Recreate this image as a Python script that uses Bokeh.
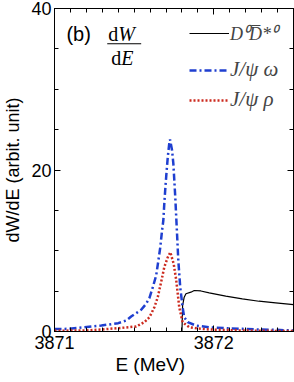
from bokeh.plotting import figure
from bokeh.models import (Range1d, FixedTicker, LinearAxis, Legend, LegendItem,
                          Label, BoxAnnotation)
from bokeh.embed import file_html
from bokeh.resources import INLINE

# ---- data ----
e_omega = [3871.000, 3871.088, 3871.188, 3871.294, 3871.400, 3871.450, 3871.481,
           3871.513, 3871.544, 3871.575, 3871.596, 3871.617, 3871.638, 3871.652,
           3871.664, 3871.675, 3871.683, 3871.689, 3871.696, 3871.704, 3871.711,
           3871.721, 3871.725, 3871.738, 3871.746, 3871.752, 3871.758, 3871.763,
           3871.769, 3871.777, 3871.789, 3871.804, 3871.814, 3871.836, 3871.888,
           3871.969, 3872.075, 3872.179, 3872.281, 3872.388, 3872.500]
w_omega = [0.31, 0.33, 0.53, 0.74, 1.03, 1.36, 1.86, 2.27, 2.69, 3.43, 4.17, 5.49,
           6.93, 8.79, 10.44, 12.51, 13.75, 15.81, 17.87, 19.94, 21.59, 23.44, 23.78,
           22.41, 20.77, 18.70, 16.63, 14.58, 12.14, 8.79, 5.49, 3.01, 1.77, 1.15,
           0.74, 0.53, 0.41, 0.33, 0.25, 0.21, 0.12]

e_rho = [3871.000, 3871.190, 3871.294, 3871.398, 3871.450, 3871.513, 3871.564,
         3871.596, 3871.627, 3871.648, 3871.669, 3871.689, 3871.711, 3871.727,
         3871.748, 3871.763, 3871.783, 3871.804, 3871.846, 3871.898, 3871.969,
         3872.179, 3872.500]
w_rho = [0.10, 0.12, 0.25, 0.41, 0.50, 0.62, 1.15, 1.77, 3.01, 4.25, 6.10, 7.96,
         9.20, 9.82, 8.38, 6.50, 3.01, 1.15, 0.53, 0.37, 0.25, 0.12, 0.05]

e_dd = [3871.800, 3871.802, 3871.804, 3871.814, 3871.825, 3871.856, 3871.877,
        3871.919, 3871.971, 3872.075, 3872.179, 3872.283, 3872.388, 3872.500]
w_dd = [0.00, 1.60, 3.22, 4.25, 4.67, 4.87, 5.08, 5.02, 4.79, 4.37, 4.05, 3.75,
        3.55, 3.34]

x_major = [3871, 3872]
x_minor = [round(3871 + 0.1 * i, 1) for i in range(16)]
y_major = [0, 20, 40]
y_minor = [0, 5, 10, 15, 20, 25, 30, 35, 40]

label_dd = "D\u2070D\u0305*\u2070"
label_omega = "J/\u03c8 \u03c9"
label_rho = "J/\u03c8 \u03c1"
# trailing no-break spaces shift the centred title left, as in the reference
x_title = "E (MeV)" + "\u00a0" * 9
y_title = "dW/dE (arbit. unit)"

BLUE = "#1f3fd0"
RED = "#cc2a1e"

p = figure(width=294, height=382, output_backend="svg", toolbar_location=None,
           x_range=Range1d(3871, 3872.5), y_range=Range1d(0, 40),
           min_border_left=53, min_border_right=1, min_border_top=8,
           min_border_bottom=51, x_axis_label=x_title, y_axis_label=y_title)
p.grid.visible = False
p.outline_line_color = "black"
p.outline_line_width = 1
p.background_fill_color = "white"
p.border_fill_color = "white"

xt = FixedTicker(ticks=x_major, minor_ticks=x_minor)
yt = FixedTicker(ticks=y_major, minor_ticks=y_minor)
p.xaxis.ticker = xt
p.yaxis.ticker = yt

def style_axis(ax, show_labels):
    ax.axis_line_color = "black"
    ax.major_tick_line_color = "black"
    ax.minor_tick_line_color = "black"
    ax.major_tick_in = 6
    ax.major_tick_out = 0
    ax.minor_tick_in = 4
    ax.minor_tick_out = 0
    if show_labels:
        ax.major_label_text_font = "Liberation Sans"
        ax.major_label_text_font_size = "18px"
        ax.major_label_text_color = "black"
        ax.axis_label_text_font = "Liberation Sans"
        ax.axis_label_text_font_size = "18px"
        ax.axis_label_text_font_style = "normal"
        ax.axis_label_text_color = "black"
    else:
        ax.axis_label = None
        ax.axis_label_standoff = 0
        ax.major_label_text_font_size = "0px"
        ax.major_label_standoff = 0

for ax in p.xaxis + p.yaxis:
    style_axis(ax, True)
p.xaxis.major_label_standoff = 4
p.xaxis.axis_label_standoff = 2
p.xaxis.axis_label_text_font_size = "19px"
p.yaxis.major_label_standoff = 3
p.yaxis.axis_label_standoff = 5

top = LinearAxis(ticker=xt)
right = LinearAxis(ticker=yt)
style_axis(top, False)
style_axis(right, False)
p.add_layout(top, "above")
p.add_layout(right, "right")

r_dd = p.line(e_dd, w_dd, line_color="black", line_width=1.2)
r_om = p.line(e_omega, w_omega, line_color=BLUE, line_width=2.5,
              line_dash="7 3 2 3")
r_rho = p.line(e_rho, w_rho, line_color=RED, line_width=2.5, line_dash="2 2")

def make_legend(items, loc, spacing, size, h):
    return Legend(items=items, location=loc, spacing=spacing, padding=0, margin=0,
                  glyph_width=40, glyph_height=h, label_height=h,
                  label_standoff=1, border_line_color=None,
                  background_fill_alpha=0,
                  label_text_font="Liberation Serif",
                  label_text_font_style="italic",
                  label_text_font_size=size)

leg1 = make_legend([LegendItem(label=label_dd, renderers=[r_dd])], (135, 286),
                   0, "18px", 24)
leg2 = make_legend([LegendItem(label=label_omega, renderers=[r_om]),
                    LegendItem(label=label_rho, renderers=[r_rho])], (135, 219),
                   5, "21px", 24)
p.add_layout(leg1)
p.add_layout(leg2)

p.add_layout(Label(x=3871.075, y=36.9, text="(b)", text_baseline="middle",
                   text_font="Liberation Sans", text_font_size="20px",
                   text_color="black"))
for tx, ty, t, st in [(3871.3375, 36.8, "d", "normal"), (3871.40, 36.8, "W", "italic"),
                      (3871.356, 33.9, "d", "normal"), (3871.419, 33.9, "E", "italic")]:
    p.add_layout(Label(x=tx, y=ty, text=t, text_baseline="middle",
                       text_font="Liberation Serif", text_font_size="20px",
                       text_font_style=st, text_color="black"))
p.add_layout(BoxAnnotation(left=3871.331, right=3871.544, bottom=35.57, top=35.69,
                           fill_color="black", fill_alpha=1, line_color=None))

open("out.html", "w").write(file_html(p, INLINE))
